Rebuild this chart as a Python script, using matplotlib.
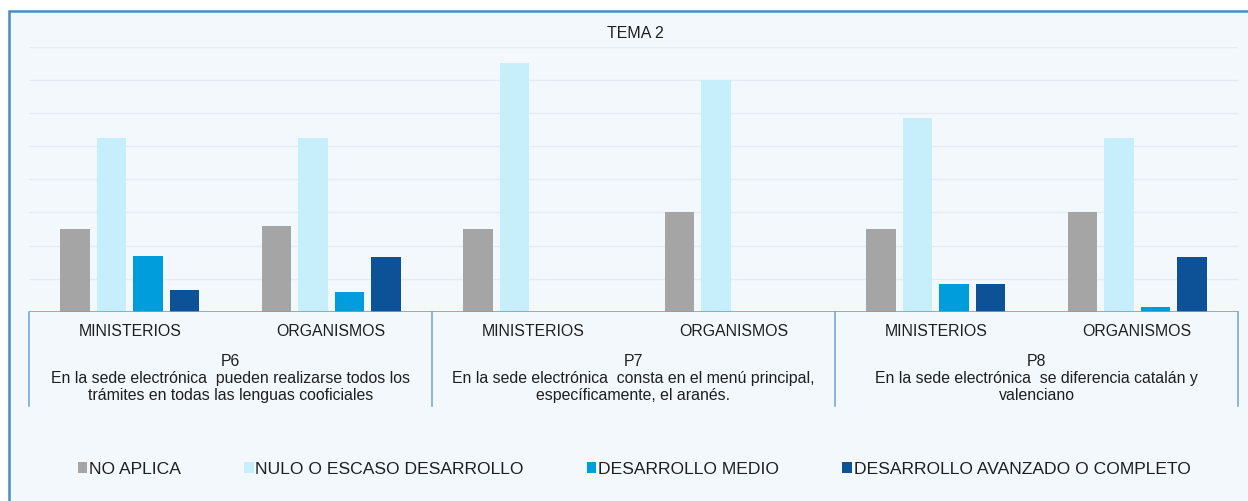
import matplotlib.pyplot as plt
from matplotlib.patches import Rectangle, Patch
import numpy as np

plt.rcParams['font.family'] = ['Liberation Sans', 'DejaVu Sans']

# data (percent)
series = ['NO APLICA', 'NULO O ESCASO DESARROLLO', 'DESARROLLO MEDIO',
          'DESARROLLO AVANZADO O COMPLETO']
colors = ['#A5A5A5', '#C6EEFB', '#009DDC', '#0D5297']
categories = ['MINISTERIOS', 'ORGANISMOS'] * 3
groups = ['P6\nEn la sede electrónica  pueden realizarse todos los\ntrámites en todas las lenguas cooficiales',
          'P7\nEn la sede electrónica  consta en el menú principal,\nespecíficamente, el aranés.',
          'P8\nEn la sede electrónica  se diferencia catalán y\nvalenciano']
no_aplica = [25, 26, 25, 30, 25, 30]
nulo = [52.5, 52.5, 75, 70, 58.5, 52.5]
medio = [17, 6, 0, 0, 8.5, 1.5]
avanzado = [6.5, 16.5, 0, 0, 8.5, 16.5]
values = [no_aplica, nulo, medio, avanzado]

W, H = 1248, 501
fig = plt.figure(figsize=(W / 100, H / 100), dpi=100)
fig.patch.set_facecolor('white')

# outer chart frame
frame = Rectangle((9 / W, -0.05), 1.1, (H - 11) / H + 0.05,
                  transform=fig.transFigure, facecolor='#F2F8FC',
                  edgecolor='#4A8BC2', lw=1.8, zorder=-10)
fig.add_artist(frame)

ax = fig.add_axes([29 / W, (H - 312) / H, (1238 - 29) / W, (312 - 46.5) / H])
ax.set_zorder(1)
ax.set_facecolor('none')
ax.set_xlim(-0.5, 5.5)
ax.set_ylim(0, 80)
for y in np.arange(10, 81, 10):
    ax.axhline(y, color='#E5EDF4', lw=1, zorder=0)

x = np.arange(len(categories))
pitch = 0.181
bw = 0.146
for i, (vals, c) in enumerate(zip(values, colors)):
    ax.bar(x + (i - 1.5) * pitch, vals, width=bw, color=c, zorder=2)

for s in ax.spines.values():
    s.set_visible(False)
ax.set_xticks([])
ax.set_yticks([])
ax.axhline(0, color='#6FA3D4', lw=1.2, zorder=3)

trans = ax.get_xaxis_transform()
axh = 312 - 46.5
for xs in [-0.5, 1.5, 3.5, 5.5]:
    ax.plot([xs, xs], [0, -(406 - 312) / axh], color='#6FA3D4', lw=1.1,
            transform=trans, clip_on=False)
for xi, lab in zip(x, categories):
    ax.text(xi, -19.5 / axh, lab, transform=trans, ha='center', va='center',
            fontsize=11.4, color='#1F1F1F')
for gi, g in enumerate(groups):
    ax.text(2 * gi + 0.5, -66.5 / axh, g, transform=trans, ha='center', va='center',
            fontsize=11.4, color='#1F1F1F', linespacing=1.2)

fig.text(635 / W, (H - 33) / H, 'TEMA 2', ha='center', va='center',
         fontsize=11.5, color='#1F1F1F')

handles = [Patch(facecolor=c, edgecolor='none') for c in colors]
fig.legend(handles, series, loc='center', bbox_to_anchor=(634 / W, (H - 469) / H),
           ncol=4, frameon=False, fontsize=12.6, handlelength=0.55, handleheight=0.55,
           handletextpad=0.1, columnspacing=3.6, labelcolor='#1F1F1F')

fig.savefig('out.png', dpi=100)
